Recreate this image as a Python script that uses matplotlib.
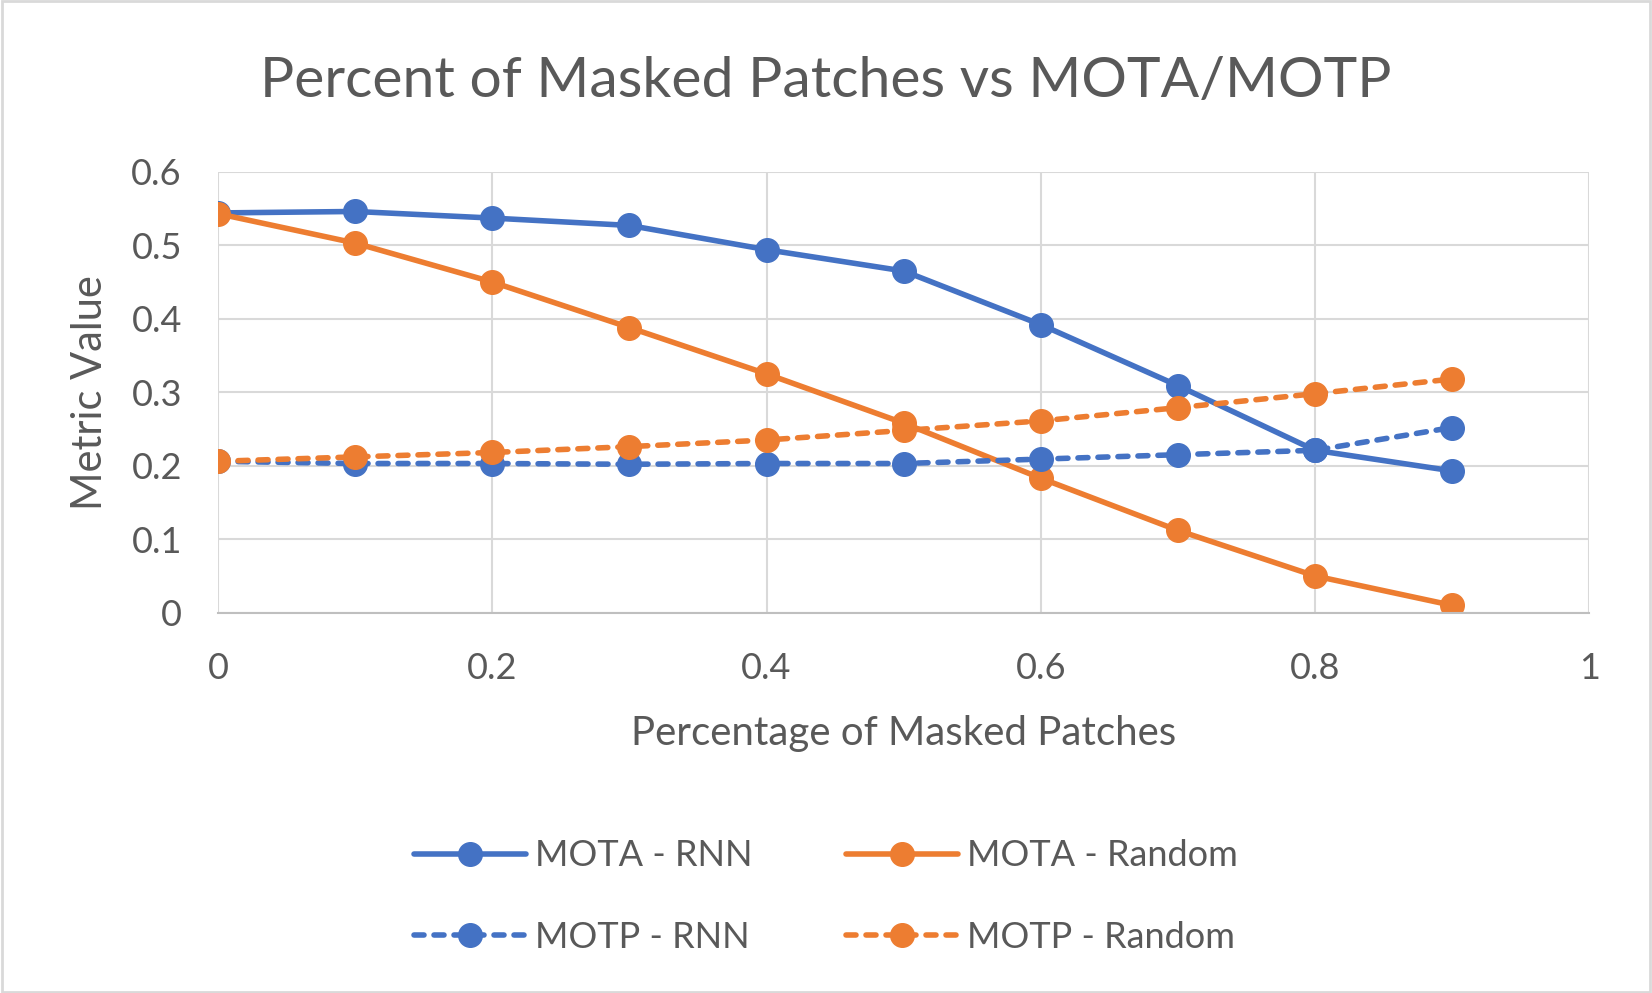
import numpy as np
from matplotlib import pyplot as plt
from matplotlib.patches import Rectangle

# data
masked = [0, 0.1, 0.2, 0.3, 0.4, 0.5, 0.6, 0.7, 0.8, 0.9]
mota_rnn = [0.544, 0.546, 0.537, 0.527, 0.494, 0.465, 0.392, 0.309, 0.221, 0.193]
mota_random = [0.543, 0.503, 0.450, 0.388, 0.325, 0.258, 0.183, 0.112, 0.050, 0.010]
motp_rnn = [0.206, 0.203, 0.203, 0.202, 0.203, 0.203, 0.209, 0.215, 0.221, 0.252]
motp_random = [0.206, 0.212, 0.218, 0.226, 0.235, 0.248, 0.261, 0.279, 0.298, 0.318]

x_ticks = [0, 0.2, 0.4, 0.6, 0.8, 1]
x_tick_labels = ['0', '0.2', '0.4', '0.6', '0.8', '1']
y_ticks = [0, 0.1, 0.2, 0.3, 0.4, 0.5, 0.6]
y_tick_labels = ['0', '0.1', '0.2', '0.3', '0.4', '0.5', '0.6']

BLUE = '#4472C4'
ORANGE = '#ED7D31'
TEXT = '#595959'
GRID = '#D9D9D9'

plt.rcParams['font.family'] = ['Lato', 'DejaVu Sans']

fig = plt.figure(figsize=(16.52, 9.93), dpi=100)
ax = fig.add_axes([0.132, 0.383, 0.830, 0.444])

style = dict(linewidth=4.0, marker='o', markersize=17, solid_capstyle='round', dash_capstyle='round')
dash = (1.8, 1.8)
l1, = ax.plot(masked, mota_rnn, color=BLUE, label='MOTA - RNN', **style)
l2, = ax.plot(masked, mota_random, color=ORANGE, label='MOTA - Random', **style)
l3, = ax.plot(masked, motp_rnn, color=BLUE, label='MOTP - RNN', dashes=dash, **style)
l4, = ax.plot(masked, motp_random, color=ORANGE, label='MOTP - Random', dashes=dash, **style)

ax.set_xlim(0, 1)
ax.set_ylim(0, 0.6)
ax.set_xticks(x_ticks)
ax.set_xticklabels(x_tick_labels)
ax.set_yticks(y_ticks)
ax.set_yticklabels(y_tick_labels)
ax.tick_params(length=0, labelsize=26, colors=TEXT)
ax.tick_params(axis='y', pad=26)
ax.tick_params(axis='x', pad=28)
ax.grid(True, color=GRID, linewidth=1.5)
ax.set_axisbelow(True)
for s in ['top', 'right', 'left']:
    ax.spines[s].set_visible(False)
ax.spines['bottom'].set_color('#BFBFBF')
ax.spines['bottom'].set_linewidth(1.5)

ax.set_xlabel('Percentage of Masked Patches', fontsize=29, color=TEXT, labelpad=22)
ax.set_ylabel('Metric Value', fontsize=30, color=TEXT, labelpad=16)
fig.text(0.5, 0.918, 'Percent of Masked Patches vs MOTA/MOTP', ha='center', va='center',
         fontsize=41, color=TEXT)

fig.legend(handles=[l1, l3, l2, l4], loc='center', bbox_to_anchor=(0.5, 0.097), ncol=2,
           frameon=False, fontsize=26, labelcolor=TEXT, handlelength=3.1,
           handletextpad=0.25, columnspacing=2.6, labelspacing=1.35)

fig.patches.append(Rectangle((0.001, 0.001), 0.998, 0.998, transform=fig.transFigure,
                             fill=False, edgecolor='#D9D9D9', linewidth=2))

fig.savefig('out.png', dpi=100)
